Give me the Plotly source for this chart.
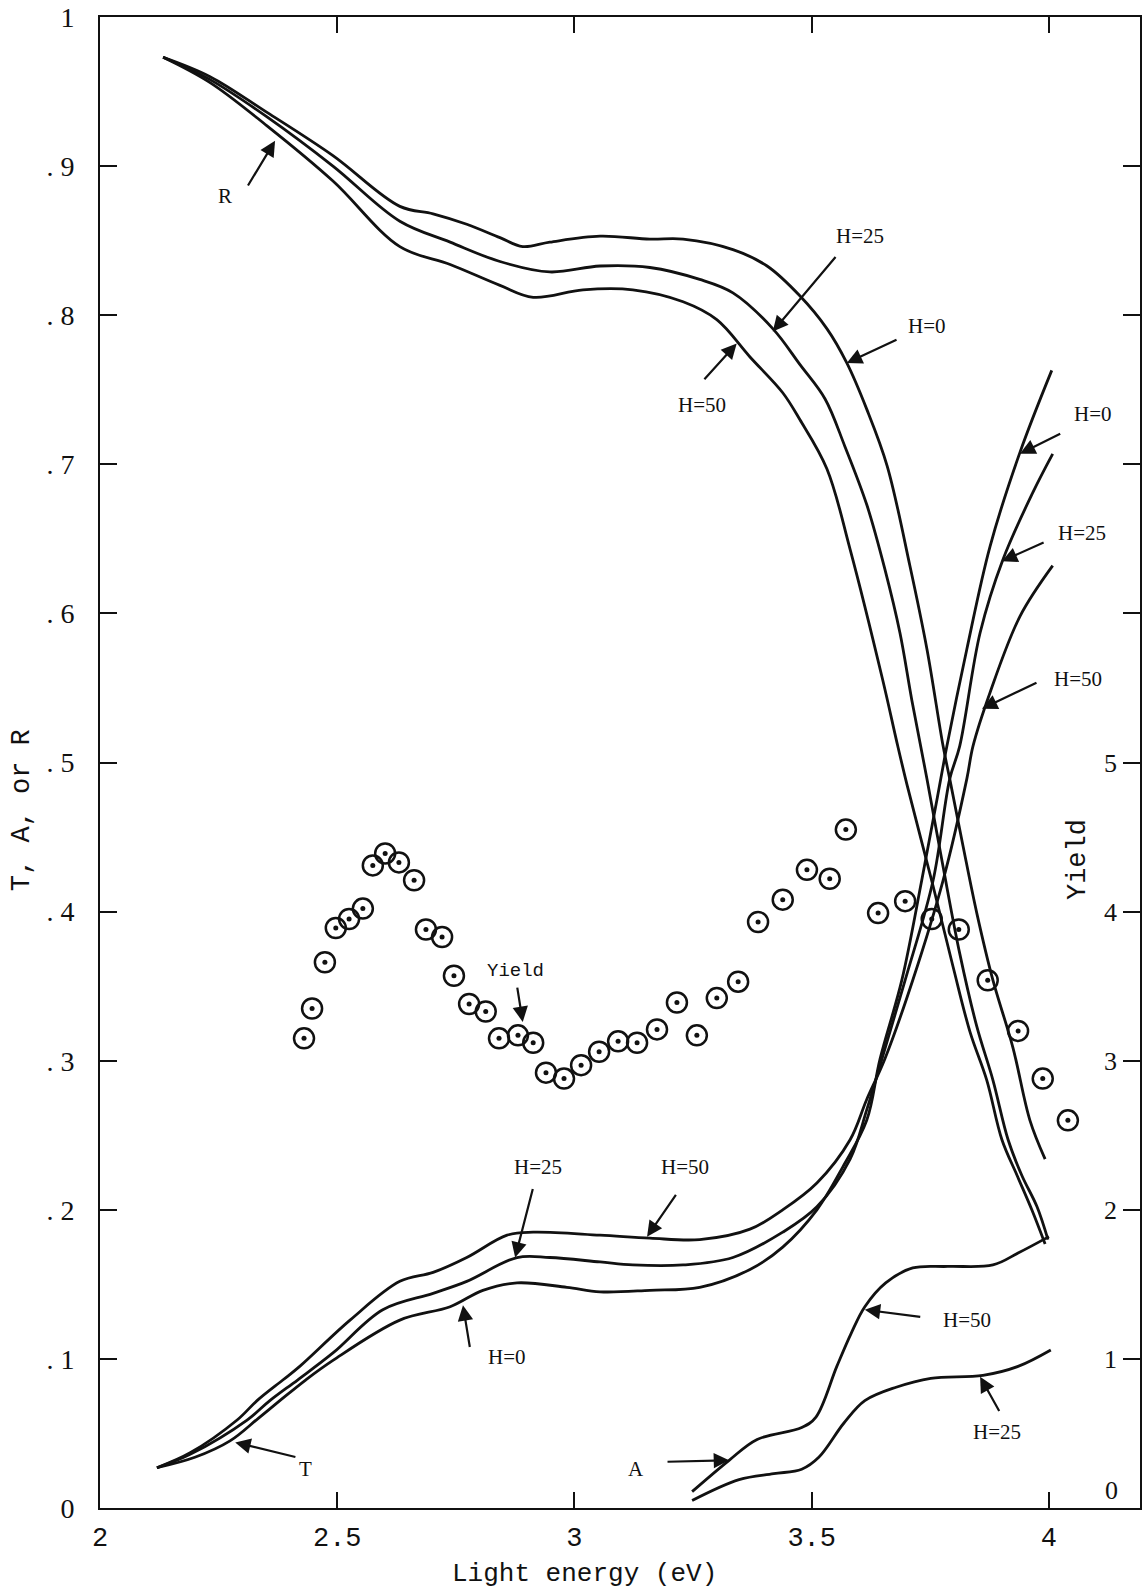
import plotly.graph_objects as go

# ---------------- data ----------------
# Reflectance R
r_h0_x = [2.133, 2.232, 2.352, 2.491, 2.632, 2.702, 2.773, 2.843, 2.891, 2.948, 3.054, 3.159, 3.229, 3.334,
          3.406, 3.475, 3.532, 3.574, 3.616, 3.659, 3.707, 3.743, 3.777, 3.791, 3.819, 3.848, 3.882, 3.924,
          3.960, 3.992]
r_h0_y = [0.973, 0.960, 0.936, 0.907, 0.873, 0.868, 0.861, 0.852, 0.846, 0.849, 0.853, 0.851, 0.851, 0.844,
          0.833, 0.813, 0.791, 0.768, 0.737, 0.699, 0.632, 0.576, 0.511, 0.489, 0.444, 0.399, 0.354, 0.309,
          0.260, 0.234]

r_h25_x = [2.133, 2.232, 2.352, 2.491, 2.632, 2.738, 2.843, 2.948, 3.054, 3.159, 3.264, 3.334, 3.418, 3.475,
           3.528, 3.570, 3.616, 3.654, 3.686, 3.711, 3.743, 3.777, 3.812, 3.848, 3.882, 3.914, 3.943, 3.975,
           3.998]
r_h25_y = [0.973, 0.958, 0.933, 0.900, 0.863, 0.849, 0.836, 0.829, 0.833, 0.832, 0.824, 0.815, 0.791, 0.767,
           0.744, 0.712, 0.673, 0.630, 0.587, 0.542, 0.489, 0.430, 0.372, 0.323, 0.287, 0.247, 0.223, 0.202,
           0.180]

r_h50_x = [2.133, 2.232, 2.352, 2.491, 2.632, 2.738, 2.843, 2.913, 3.018, 3.123, 3.229, 3.300, 3.370, 3.439,
           3.475, 3.532, 3.581, 3.650, 3.680, 3.701, 3.756, 3.798, 3.834, 3.869, 3.901, 3.933, 3.964, 3.992]
r_h50_y = [0.973, 0.956, 0.927, 0.890, 0.846, 0.834, 0.820, 0.812, 0.817, 0.817, 0.809, 0.797, 0.772, 0.748,
           0.730, 0.697, 0.643, 0.555, 0.513, 0.485, 0.417, 0.363, 0.319, 0.287, 0.247, 0.223, 0.200, 0.177]

# Transmission T
t_h0_x = [2.120, 2.200, 2.274, 2.333, 2.379, 2.434, 2.491, 2.632, 2.738, 2.807, 2.879, 2.984, 3.054, 3.159,
          3.264, 3.370, 3.439, 3.511, 3.566, 3.616, 3.644, 3.690, 3.732, 3.764, 3.785, 3.827, 3.876, 3.939,
          4.006]
t_h0_y = [0.027, 0.034, 0.045, 0.060, 0.072, 0.086, 0.099, 0.126, 0.135, 0.146, 0.151, 0.148, 0.145, 0.146,
          0.148, 0.160, 0.175, 0.200, 0.229, 0.260, 0.301, 0.354, 0.421, 0.475, 0.511, 0.576, 0.645, 0.708,
          0.763]

t_h25_x = [2.120, 2.190, 2.310, 2.358, 2.417, 2.491, 2.596, 2.702, 2.773, 2.879, 2.948, 3.054, 3.123, 3.229,
           3.334, 3.439, 3.511, 3.581, 3.616, 3.648, 3.697, 3.756, 3.791, 3.812, 3.855, 3.903, 3.966, 4.008]
t_h25_y = [0.027, 0.036, 0.059, 0.072, 0.086, 0.104, 0.133, 0.144, 0.152, 0.168, 0.168, 0.165, 0.163, 0.163,
           0.168, 0.185, 0.202, 0.234, 0.267, 0.301, 0.354, 0.421, 0.489, 0.511, 0.587, 0.636, 0.681, 0.707]

t_h50_x = [2.120, 2.190, 2.289, 2.331, 2.386, 2.421, 2.527, 2.632, 2.702, 2.773, 2.858, 2.913, 3.054, 3.159,
           3.264, 3.370, 3.439, 3.511, 3.581, 3.616, 3.654, 3.713, 3.777, 3.827, 3.840, 3.876, 3.939, 4.008]
t_h50_y = [0.027, 0.037, 0.059, 0.072, 0.086, 0.095, 0.126, 0.152, 0.158, 0.168, 0.183, 0.185, 0.183, 0.181,
           0.180, 0.187, 0.200, 0.218, 0.247, 0.274, 0.301, 0.354, 0.421, 0.489, 0.511, 0.547, 0.598, 0.632]

# Absorption A
a_h50_x = [3.248, 3.326, 3.385, 3.479, 3.509, 3.553, 3.583, 3.612, 3.656, 3.713, 3.787, 3.882, 3.935, 4.000]
a_h50_y = [0.011, 0.032, 0.046, 0.054, 0.061, 0.095, 0.117, 0.135, 0.151, 0.161, 0.162, 0.163, 0.171, 0.182]

a_h25_x = [3.248, 3.347, 3.420, 3.479, 3.515, 3.568, 3.612, 3.678, 3.751, 3.861, 3.935, 4.004]
a_h25_y = [0.005, 0.019, 0.023, 0.026, 0.034, 0.057, 0.072, 0.081, 0.087, 0.089, 0.095, 0.106]

# Photoelectric yield (right axis)
yield_x = [2.430, 2.447, 2.474, 2.497, 2.525, 2.554, 2.575, 2.601, 2.630, 2.662, 2.687, 2.721, 2.746, 2.778,
           2.813, 2.841, 2.881, 2.913, 2.940, 2.978, 3.014, 3.052, 3.092, 3.132, 3.174, 3.216, 3.258, 3.300,
           3.345, 3.387, 3.439, 3.490, 3.538, 3.572, 3.640, 3.697, 3.753, 3.810, 3.871, 3.935, 3.987, 4.040]
yield_y = [3.15, 3.35, 3.66, 3.89, 3.95, 4.02, 4.31, 4.39, 4.33, 4.21, 3.88, 3.83, 3.57, 3.38,
           3.33, 3.15, 3.17, 3.12, 2.92, 2.88, 2.97, 3.06, 3.13, 3.12, 3.21, 3.39, 3.17, 3.42,
           3.53, 3.93, 4.08, 4.28, 4.22, 4.55, 3.99, 4.07, 3.95, 3.88, 3.54, 3.20, 2.88, 2.60]

# axis ticks
x_tickvals = [2, 2.5, 3, 3.5, 4]
x_ticktext = ["2", "2.5", "3", "3.5", "4"]
y_tickvals = [0, 0.1, 0.2, 0.3, 0.4, 0.5, 0.6, 0.7, 0.8, 0.9, 1.0]
y_ticktext = ["0", ". 1", ". 2", ". 3", ". 4", ". 5", ". 6", ". 7", ". 8", ". 9", "1"]
y2_tickvals = [1, 2, 3, 4, 5]
y2_ticktext = ["1", "2", "3", "4", "5"]
y2_zero_label = "0"

# labels: (text, label x, label y, arrow tail x, tail y, arrow tip x, tip y)
labels = [
    ("R", 2.263, 0.880, 2.310, 0.886, 2.369, 0.917),
    ("H=25", 3.602, 0.853, 3.553, 0.840, 3.418, 0.789),
    ("H=0", 3.743, 0.793, 3.682, 0.784, 3.574, 0.768),
    ("H=50", 3.269, 0.740, 3.271, 0.756, 3.342, 0.781),
    ("H=0", 4.093, 0.734, 4.027, 0.721, 3.939, 0.707),
    ("H=25", 4.070, 0.654, 3.992, 0.648, 3.901, 0.635),
    ("H=50", 4.061, 0.556, 3.977, 0.554, 3.859, 0.536),
    ("H=25", 2.923, 0.229, 2.913, 0.215, 2.875, 0.168),
    ("H=0", 2.858, 0.101, 2.780, 0.107, 2.765, 0.136),
    ("H=50", 3.233, 0.229, 3.216, 0.211, 3.153, 0.182),
    ("T", 2.434, 0.026, 2.415, 0.034, 2.285, 0.044),
    ("A", 3.130, 0.026, 3.193, 0.031, 3.326, 0.032),
    ("H=50", 3.827, 0.126, 3.732, 0.128, 3.612, 0.133),
    ("H=25", 3.890, 0.051, 3.897, 0.064, 3.855, 0.088),
]
yield_label = ("Yield", 2.875, 0.360, 2.879, 0.350, 2.891, 0.326)

# ---------------- figure ----------------
INK = "#111111"
SERIF = "Liberation Serif"
MONO = "Liberation Mono"

fig = go.Figure()

for xs, ys in [(r_h0_x, r_h0_y), (r_h25_x, r_h25_y), (r_h50_x, r_h50_y),
               (t_h0_x, t_h0_y), (t_h25_x, t_h25_y), (t_h50_x, t_h50_y),
               (a_h50_x, a_h50_y), (a_h25_x, a_h25_y)]:
    fig.add_trace(go.Scatter(x=xs, y=ys, mode="lines",
                             line=dict(color=INK, width=2.8, shape="spline", smoothing=1.0),
                             hoverinfo="skip"))

fig.add_trace(go.Scatter(x=yield_x, y=yield_y, yaxis="y2", mode="markers",
                         marker=dict(symbol="circle-open", size=20, color=INK, line=dict(width=2.5, color=INK))))
fig.add_trace(go.Scatter(x=yield_x, y=yield_y, yaxis="y2", mode="markers",
                         marker=dict(symbol="circle", size=5, color=INK)))

annotations = []
for txt, lx, ly, tx, ty, hx, hy in labels:
    annotations.append(dict(x=lx, y=ly, xref="x", yref="y", text=txt, showarrow=False,
                            xanchor="center", yanchor="middle",
                            font=dict(family=SERIF, size=21, color=INK)))
    annotations.append(dict(x=hx, y=hy, ax=tx, ay=ty, xref="x", yref="y", axref="x", ayref="y",
                            text="", showarrow=True, arrowhead=2, arrowsize=1.4, arrowwidth=2.2,
                            arrowcolor=INK, standoff=0, startstandoff=0))
txt, lx, ly, tx, ty, hx, hy = yield_label
annotations.append(dict(x=lx, y=ly, xref="x", yref="y", text=txt, showarrow=False,
                        xanchor="center", yanchor="middle",
                        font=dict(family=MONO, size=19, color=INK)))
annotations.append(dict(x=hx, y=hy, ax=tx, ay=ty, xref="x", yref="y", axref="x", ayref="y",
                        text="", showarrow=True, arrowhead=2, arrowsize=1.4, arrowwidth=2.2,
                        arrowcolor=INK, standoff=0, startstandoff=0))

# right-axis "0" label sits just above the corner
annotations.append(dict(x=1.0, y=0, xref="paper", yref="y2", text=y2_zero_label, showarrow=False,
                        xanchor="right", yanchor="bottom", xshift=-20, yshift=1,
                        font=dict(family=SERIF, size=26, color=INK)))

# axis titles
annotations.append(dict(x=0.466, y=-0.0443, xref="paper", yref="paper", text="Light energy (eV)",
                        xanchor="center", yanchor="middle",
                        showarrow=False, font=dict(family=MONO, size=26, color=INK)))
annotations.append(dict(x=-0.075, y=0.468, xref="paper", yref="paper", text="T, A, or R",
                        xanchor="center", yanchor="middle",
                        textangle=-90, showarrow=False, font=dict(family=MONO, size=27, color=INK)))
annotations.append(dict(x=0.941, y=0.435, xref="paper", yref="paper", text="Yield",
                        xanchor="center", yanchor="middle",
                        textangle=-90, showarrow=False, font=dict(family=MONO, size=27, color=INK)))

fig.update_layout(
    width=1146, height=1590,
    margin=dict(l=100, r=6, t=17, b=82, autoexpand=False),
    paper_bgcolor="white", plot_bgcolor="white",
    showlegend=False,
    annotations=annotations,
    xaxis=dict(range=[2, 4.192], tickvals=x_tickvals, ticktext=x_ticktext,
               ticks="inside", ticklen=16, tickwidth=2, tickcolor=INK,
               showline=True, linewidth=2, linecolor=INK, mirror="ticks",
               showgrid=False, zeroline=False, automargin=False,
               tickfont=dict(family=MONO, size=27, color=INK), ticklabelstandoff=4),
    yaxis=dict(range=[0, 1], tickvals=y_tickvals, ticktext=y_ticktext,
               ticks="inside", ticklen=17, tickwidth=2, tickcolor=INK,
               showline=True, linewidth=2, linecolor=INK, mirror="ticks",
               showgrid=False, zeroline=False, automargin=False,
               tickfont=dict(family=SERIF, size=28, color=INK), ticklabelstandoff=18),
    yaxis2=dict(range=[0, 10], overlaying="y", side="right", tickvals=y2_tickvals, ticktext=y2_ticktext,
                ticks="", showline=False, showgrid=False, zeroline=False, automargin=False,
                ticklabelposition="inside", ticklabelstandoff=20,
                tickfont=dict(family=SERIF, size=26, color=INK)),
)

fig.write_html("out.html")
